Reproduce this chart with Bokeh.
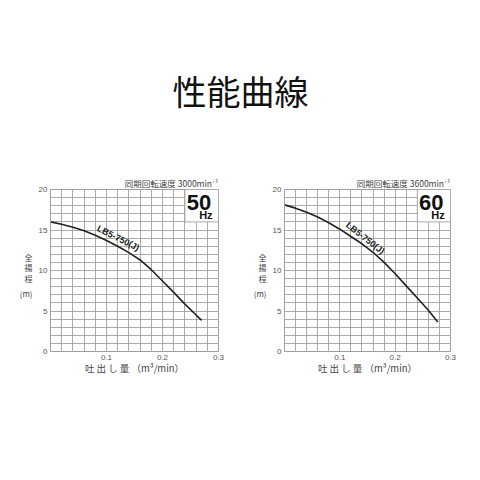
from bokeh.plotting import figure
from bokeh.layouts import column, row
from bokeh.models import Range1d, FixedTicker, Label, LinearAxis
from bokeh.core.properties import value
from bokeh.embed import file_html
from bokeh.resources import INLINE
import numpy as np

TITLE = "性能曲線"
MODEL = "LB5-750(J)"
X_LABEL = "吐 出 し 量 （m³/min）"
Y_LABEL_PARTS = ["全\n揚\n程", "(m)"]
X_TICKS = [0.1, 0.2, 0.3]
Y_TICKS = [0, 5, 10, 15, 20]

# 50 Hz curve
flow_50 = [0.0, 0.02, 0.04, 0.06, 0.08, 0.10, 0.12, 0.14, 0.16, 0.18, 0.20, 0.22, 0.24, 0.26, 0.27]
head_50 = [16.0, 15.7, 15.35, 14.9, 14.35, 13.7, 13.0, 12.2, 11.3, 10.1, 8.7, 7.3, 5.85, 4.5, 3.85]
# 60 Hz curve
flow_60 = [0.0, 0.02, 0.04, 0.06, 0.08, 0.10, 0.12, 0.14, 0.16, 0.18, 0.20, 0.22, 0.24, 0.26, 0.277]
head_60 = [18.1, 17.7, 17.2, 16.6, 15.9, 15.1, 14.2, 13.3, 12.25, 11.0, 9.6, 8.1, 6.6, 5.1, 3.65]

CJK = "Noto Sans CJK JP"
LAT = "Liberation Sans"
GRID = "#a0a0a0"
TXT = "#555555"

# vertical positions (in head units) of the stacked y-axis caption
YLAB_POS = [10.35, 7.2]


def make_chart(flow, head, speed_text, hz_text, width, left_border, label_pos, label_angle):
    p = figure(width=width, height=222, output_backend="svg", toolbar_location=None,
               x_range=Range1d(0, 0.3), y_range=Range1d(0, 20),
               min_border_left=left_border, min_border_right=22,
               min_border_top=21, min_border_bottom=39)
    p.background_fill_color = "white"
    p.border_fill_color = "white"
    p.outline_line_color = GRID
    p.outline_line_width = 1

    p.title.text = speed_text
    p.title.align = "right"
    p.title.text_font = CJK
    p.title.text_font_size = "8.5px"
    p.title.text_font_style = "normal"
    p.title.text_color = "#444444"
    p.title.standoff = 1

    p.xgrid.ticker = FixedTicker(ticks=[round(v, 2) for v in np.arange(0, 0.3001, 0.02)])
    p.ygrid.ticker = FixedTicker(ticks=list(range(0, 21)))
    for g in (p.xgrid, p.ygrid):
        g.grid_line_color = GRID
        g.grid_line_width = 0.9

    for ax in (p.xaxis, p.yaxis):
        ax.axis_line_color = GRID
        ax.major_tick_line_color = None
        ax.minor_tick_line_color = None
        ax.major_tick_out = 0
        ax.major_tick_in = 0
        ax.minor_tick_out = 0
        ax.major_label_text_font = LAT
        ax.major_label_text_font_size = "8px"
        ax.major_label_text_color = TXT
    p.xaxis.ticker = FixedTicker(ticks=X_TICKS)
    p.yaxis.ticker = FixedTicker(ticks=Y_TICKS)
    p.xaxis.major_label_standoff = 3
    p.yaxis.major_label_standoff = 3
    p.xaxis.axis_label = X_LABEL
    p.xaxis.axis_label_text_font = CJK
    p.xaxis.axis_label_text_font_size = "9.5px"
    p.xaxis.axis_label_text_font_style = "normal"
    p.xaxis.axis_label_text_color = "#444444"
    p.xaxis.axis_label_standoff = -2

    # stacked y caption as an outer left axis
    cap = LinearAxis(ticker=FixedTicker(ticks=YLAB_POS),
                     major_label_overrides={k: t for k, t in zip(YLAB_POS, Y_LABEL_PARTS)})
    cap.major_label_orientation = "horizontal"
    cap.axis_line_color = None
    cap.major_tick_line_color = None
    cap.minor_tick_line_color = None
    cap.major_tick_out = 0
    cap.major_tick_in = 0
    cap.minor_tick_out = 0
    cap.major_label_standoff = 3
    cap.major_label_text_font = CJK
    cap.major_label_text_font_size = "8px"
    cap.major_label_text_line_height = 0.95
    cap.major_label_text_color = "#444444"
    p.add_layout(cap, "left")

    # frequency box
    p.quad(left=[0.24], right=[0.3], bottom=[16], top=[20],
           fill_color="white", line_color=GRID, line_width=0.9)
    p.text(x=[0.265], y=[18.45], text=[hz_text], text_align="center",
           text_baseline="middle", text_font=value(LAT), text_font_style="bold",
           text_font_size="22px", text_color="#111111")
    p.text(x=[0.2895], y=[16.8], text=["Hz"], text_align="right",
           text_baseline="middle", text_font=value(LAT), text_font_style="bold",
           text_font_size="11px", text_color="#111111")

    p.line(flow, head, line_color="#222222", line_width=1.6)
    p.text(x=[label_pos[0]], y=[label_pos[1]], text=[MODEL], angle=label_angle,
           text_align="center", text_baseline="middle", text_font=value(LAT),
           text_font_style="bold", text_font_size="9px", text_color="#222222")
    return p


left = make_chart(flow_50, head_50, "同期回転速度 3000min⁻¹", "50", 240, 50,
                  (0.121, 14.0), -0.46)
right = make_chart(flow_60, head_60, "同期回転速度 3600min⁻¹", "60", 232, 44,
                   (0.146, 14.0), -0.66)

tp = figure(width=472, height=168, output_backend="svg", toolbar_location=None,
            x_range=Range1d(0, 472), y_range=Range1d(168, 0),
            min_border=0, x_axis_type=None, y_axis_type=None)
tp.outline_line_color = None
tp.xgrid.visible = False
tp.ygrid.visible = False
tp.add_layout(Label(x=240, y=90, text=TITLE, text_align="center", text_baseline="middle",
                    text_font=CJK, text_font_size="34px", text_color="#111111"))

layout = column(tp, row(left, right, spacing=0), spacing=0)
open("out.html", "w").write(file_html(layout, INLINE))
